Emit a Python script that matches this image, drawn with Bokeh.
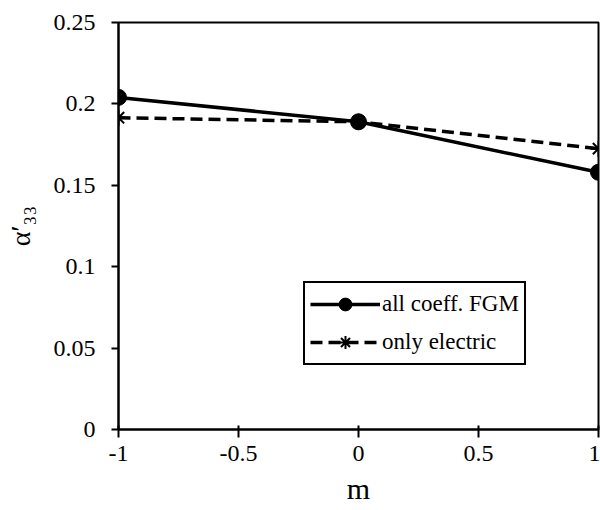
from bokeh.plotting import figure
from bokeh.models import Range1d, FixedTicker, Legend, LegendItem
from bokeh.embed import file_html
from bokeh.resources import INLINE

m_vals = [-1, 0, 1]
all_coeff = [0.204, 0.189, 0.158]
only_electric = [0.1915, 0.189, 0.1725]

x_ticks = [-1, -0.5, 0, 0.5, 1]
x_tick_labels = ["-1", "-0.5", "0", "0.5", "1"]
y_ticks = [0, 0.05, 0.1, 0.15, 0.2, 0.25]
y_tick_labels = ["0", "0.05", "0.1", "0.15", "0.2", "0.25"]

FONT = "Liberation Serif"

p = figure(width=600, height=510, output_backend="svg", toolbar_location=None,
           x_range=Range1d(-1, 1), y_range=Range1d(0, 0.25),
           min_border_left=118, min_border_right=2, min_border_top=22, min_border_bottom=81)

p.xgrid.visible = False
p.ygrid.visible = False
p.outline_line_color = "black"
p.outline_line_width = 2
p.outline_line_alpha = 1
p.background_fill_color = "white"
p.border_fill_color = "white"

l1 = p.line(m_vals, all_coeff, line_color="black", line_width=3.5)
s1 = p.scatter(m_vals, all_coeff, marker="circle", size=16, fill_color="black", line_color="black")
l2 = p.line(m_vals, only_electric, line_color="black", line_width=3.5, line_dash="12 6")
s2 = p.scatter(m_vals, only_electric, marker="asterisk", size=16, line_color="black", line_width=2)

for ax in (p.xaxis[0], p.yaxis[0]):
    ax.axis_line_width = 2
    ax.axis_line_color = "black"
    ax.major_tick_line_width = 2
    ax.major_tick_line_color = "black"
    ax.minor_tick_line_color = None
    ax.major_label_text_font = FONT
    ax.major_label_text_font_size = "24px"
    ax.major_label_text_color = "black"
    ax.axis_label_text_font = FONT
    ax.axis_label_text_font_style = "normal"
    ax.axis_label_text_color = "black"

p.xaxis.ticker = FixedTicker(ticks=x_ticks)
p.xaxis.major_label_overrides = dict(zip(x_ticks, x_tick_labels))
p.xaxis.major_tick_in = 4
p.xaxis.major_tick_out = 8
p.xaxis.major_label_standoff = 8
p.xaxis.axis_label = "m"
p.xaxis.axis_label_text_font_size = "30px"
p.xaxis.axis_label_standoff = 8

p.yaxis.ticker = FixedTicker(ticks=y_ticks)
p.yaxis.major_label_overrides = dict(zip(y_ticks, y_tick_labels))
p.yaxis.major_tick_in = 0
p.yaxis.major_tick_out = 7
p.yaxis.major_label_standoff = 16
p.yaxis.axis_label = "α′₃₃"
p.yaxis.axis_label_text_font_size = "28px"
p.yaxis.axis_label_standoff = 15

legend = Legend(items=[
    LegendItem(label="all coeff. FGM", renderers=[l1, s1]),
    LegendItem(label="only electric", renderers=[l2, s2]),
], location=(185, 64))
legend.border_line_color = "black"
legend.border_line_width = 2
legend.border_line_alpha = 1
legend.background_fill_alpha = 1
legend.label_text_font = FONT
legend.label_text_font_size = "23px"
legend.label_text_color = "black"
legend.glyph_width = 70
legend.glyph_height = 32
legend.label_height = 24
legend.spacing = 6
legend.padding = 5
legend.margin = 0
legend.label_standoff = 2
p.add_layout(legend, "center")

open("out.html", "w").write(file_html(p, INLINE))
